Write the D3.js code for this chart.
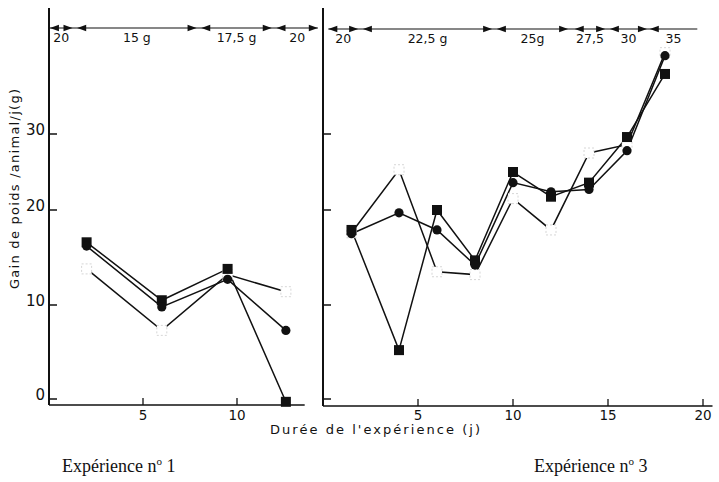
<!DOCTYPE html>
<html><head><meta charset="utf-8">
<script src="https://cdn.jsdelivr.net/npm/d3@7"></script>
<style>body{margin:0;background:#fff}svg{display:block}</style>
</head><body>
<script>
// ---- data ----
const exp1Days = [2, 6, 9.5, 12.6];
const exp1Square = [16.6, 10.5, 13.8, -0.3];
const exp1Circle = [16.2, 9.8, 12.7, 7.3];
const exp1Open = [13.8, 7.3, 13.2, 11.4];

const exp3Days = [1.5, 4, 6, 8, 10, 12, 14, 16, 18];
const exp3Square = [17.9, 5.2, 20.0, 14.7, 25.0, 21.75, 23.6, 29.6, 37.9];
const exp3Circle = [17.5, 19.7, 17.9, 14.2, 23.6, 22.4, 22.7, 27.8, 40.3];
const exp3Open = [17.6, 25.3, 13.5, 13.2, 21.5, 17.9, 27.5, 28.6, 40.7];

const ration1Labels = ["20", "15 g", "17,5 g", "20"];
const ration1Start = [0.05, 1.5, 8.1, 12.1];
const ration1End = [1.25, 7.85, 11.85, 14.3];
const ration3Labels = ["20", "22,5 g", "25g", "27,5", "30", "35"];
const ration3Start = [0.28, 2.1, 9.15, 13.25, 15.1, 17.2];
const ration3End = [1.85, 8.9, 12.9, 14.85, 17.05, 19.7];

const yTicks = [0, 10, 20, 30];
const x1Ticks = [5, 10];
const x3Ticks = [5, 10, 15, 20];

// ---- drawing ----
const W = 719, H = 482;
const svg = d3.select("body").append("svg").attr("width", W).attr("height", H)
  .style("font-family", "'DejaVu Sans', sans-serif");
svg.append("rect").attr("width", W).attr("height", H).attr("fill", "#fff");

// piecewise scale to follow the drawn axis graduation
const y = d3.scaleLinear().domain([0, 10, 20, 30]).range([399, 305, 210, 134]);
const x1 = d3.scaleLinear().domain([0, 10]).range([49, 237]);
const x3 = d3.scaleLinear().domain([0, 20]).range([323, 703]);

function arrowHead(g, px, py, dir) {
  g.append("path")
    .attr("d", `M${px},${py} L${px - dir * 9},${py - 3.2} L${px - dir * 9},${py + 3.2} Z`)
    .attr("fill", "#111");
}

function panel(x, xMax, axisY, days, sq, ci, op, labels, starts, ends, arrowY, ticks, showYLabels, lastOpen) {
  const g = svg.append("g");
  g.append("line").attr("x1", x(0)).attr("x2", x(0)).attr("y1", 8).attr("y2", axisY)
    .attr("stroke", "#111").attr("stroke-width", 2);
  g.append("line").attr("x1", x(0)).attr("x2", x(xMax)).attr("y1", axisY).attr("y2", axisY)
    .attr("stroke", "#111").attr("stroke-width", 1.6);
  yTicks.forEach(t => {
    g.append("line").attr("x1", x(0)).attr("x2", x(0) + 8).attr("y1", y(t)).attr("y2", y(t))
      .attr("stroke", "#111").attr("stroke-width", 1.5);
    if (showYLabels) {
      g.append("text").attr("x", x(0) - 4).attr("y", y(t) + 0.5).attr("text-anchor", "end")
        .attr("font-size", 15).attr("fill", "#111").text(t);
    }
  });
  ticks.forEach(t => {
    g.append("line").attr("x1", x(t)).attr("x2", x(t)).attr("y1", axisY).attr("y2", axisY - 7)
      .attr("stroke", "#111").attr("stroke-width", 1.3);
    g.append("text").attr("x", x(t)).attr("y", 420).attr("text-anchor", "middle")
      .attr("font-size", 13.5).attr("fill", "#111").text(t);
  });
  g.append("line").attr("x1", x(starts[0])).attr("x2", x(ends[ends.length - 1]))
    .attr("y1", arrowY).attr("y2", arrowY).attr("stroke", "#111").attr("stroke-width", 1.1);
  labels.forEach((lab, i) => {
    arrowHead(g, x(starts[i]), arrowY, -1);
    if (!(lastOpen && i === labels.length - 1)) arrowHead(g, x(ends[i]), arrowY, 1);
    g.append("text").attr("x", x((starts[i] + ends[i]) / 2)).attr("y", arrowY + 14)
      .attr("text-anchor", "middle").attr("font-size", 12.5).attr("fill", "#111").text(lab);
  });
  const line = vals => d3.line().x((d, i) => x(days[i])).y(d => y(d))(vals);
  [op, sq, ci].forEach(vals => {
    g.append("path").attr("d", line(vals)).attr("fill", "none")
      .attr("stroke", "#111").attr("stroke-width", 1.5);
  });
  g.selectAll(null).data(op).join("rect")
    .attr("x", (d, i) => x(days[i]) - 5).attr("y", d => y(d) - 5)
    .attr("width", 10).attr("height", 10).attr("fill", "#fff")
    .attr("stroke", "#ccc").attr("stroke-width", 0.8).attr("stroke-dasharray", "2,2");
  g.selectAll(null).data(sq).join("rect")
    .attr("x", (d, i) => x(days[i]) - 5).attr("y", d => y(d) - 5)
    .attr("width", 10).attr("height", 10).attr("fill", "#111");
  g.selectAll(null).data(ci).join("circle")
    .attr("cx", (d, i) => x(days[i])).attr("cy", d => y(d))
    .attr("r", 4.6).attr("fill", "#111");
}

panel(x1, 13.6, 405, exp1Days, exp1Square, exp1Circle, exp1Open,
  ration1Labels, ration1Start, ration1End, 28, x1Ticks, true, false);
panel(x3, 20.5, 406, exp3Days, exp3Square, exp3Circle, exp3Open,
  ration3Labels, ration3Start, ration3End, 29, x3Ticks, false, true);

// axis titles
svg.append("text").attr("transform", "translate(19,189) rotate(-90)")
  .attr("text-anchor", "middle").attr("font-size", 13).attr("fill", "#111")
  .attr("textLength", 200).attr("lengthAdjust", "spacing")
  .text("Gain de poids /animal/j(g)");
svg.append("text").attr("x", 270).attr("y", 434)
  .attr("font-size", 13).attr("fill", "#111")
  .attr("textLength", 210).attr("lengthAdjust", "spacing")
  .text("Durée  de  l'expérience (j)");

// captions
function caption(xp, num) {
  const t = svg.append("text").attr("x", xp).attr("y", 472)
    .attr("font-family", "'Liberation Serif', serif").attr("font-size", 18).attr("fill", "#111");
  t.append("tspan").text("Expérience n");
  t.append("tspan").attr("font-size", 11).attr("dy", -7).text("o");
  t.append("tspan").attr("dy", 7).text(" " + num);
}
caption(62, 1);
caption(534, 3);
</script>
</body></html>
